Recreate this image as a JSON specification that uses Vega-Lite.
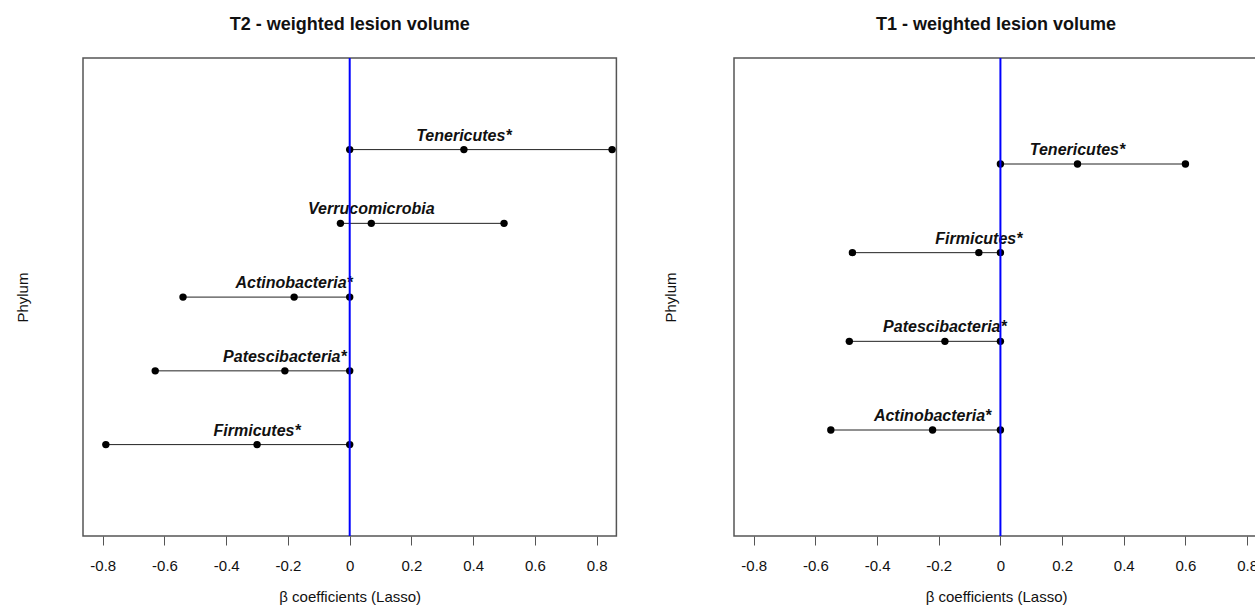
{
  "$schema": "https://vega.github.io/schema/vega-lite/v6.json",
  "background": "white",
  "padding": {"left": 14, "top": 15, "right": 0, "bottom": 0},
  "spacing": 44,
  "config": {
    "font": "Liberation Sans",
    "view": {"stroke": "#555555", "strokeWidth": 1.5},
    "title": {"font": "Liberation Sans", "fontSize": 18, "fontWeight": "bold", "color": "#111111", "offset": 23, "anchor": "middle"},
    "axis": {"grid": false}
  },
  "datasets": {
    "coef": [
      {"panel": "T2", "phylum": "Tenericutes*", "low": 0, "mid": 0.37, "high": 0.85},
      {"panel": "T2", "phylum": "Verrucomicrobia", "low": -0.03, "mid": 0.07, "high": 0.50},
      {"panel": "T2", "phylum": "Actinobacteria*", "low": -0.54, "mid": -0.18, "high": 0},
      {"panel": "T2", "phylum": "Patescibacteria*", "low": -0.63, "mid": -0.21, "high": 0},
      {"panel": "T2", "phylum": "Firmicutes*", "low": -0.79, "mid": -0.30, "high": 0},
      {"panel": "T1", "phylum": "Tenericutes*", "low": 0, "mid": 0.25, "high": 0.60},
      {"panel": "T1", "phylum": "Firmicutes*", "low": -0.48, "mid": -0.07, "high": 0},
      {"panel": "T1", "phylum": "Patescibacteria*", "low": -0.49, "mid": -0.18, "high": 0},
      {"panel": "T1", "phylum": "Actinobacteria*", "low": -0.55, "mid": -0.22, "high": 0}
    ],
    "zero": [{"z": 0}]
  },
  "hconcat": [
    {
      "title": "T2 - weighted lesion volume",
      "width": 533.4,
      "height": 478,
      "layer": [
        {
          "data": {"name": "coef"},
          "transform": [{"filter": "datum.panel == 'T2'"}],
          "mark": {"type": "rule", "color": "#222222", "strokeWidth": 1},
          "encoding": {
            "x": {"field": "low", "type": "quantitative", "scale": {"domain": [-0.864, 0.864], "nice": false, "zero": false},
              "axis": {"title": "β coefficients (Lasso)", "values": [-0.8, -0.6, -0.4, -0.2, 0, 0.2, 0.4, 0.6, 0.8],
                "labelExpr": "datum.value == 0 ? '0' : toString(round(datum.value * 10) / 10)",
                "labelFontSize": 15, "labelColor": "#111111", "labelPadding": 13, "labelFlush": false,
                "tickSize": 9, "tickColor": "#555555", "tickWidth": 1, "domain": false,
                "titleFontSize": 15, "titleFontWeight": "normal", "titleColor": "#111111", "titlePadding": 16}},
            "x2": {"field": "high"},
            "y": {"field": "phylum", "type": "nominal", "sort": ["Tenericutes*", "Verrucomicrobia", "Actinobacteria*", "Patescibacteria*", "Firmicutes*"],
              "scale": {"type": "point", "padding": 0, "range": [91.6, 386.6]},
              "axis": {"title": "Phylum", "labels": false, "ticks": false, "domain": false, "titlePadding": 53, "titleFontSize": 15, "titleFontWeight": "normal", "titleColor": "#111111"}}
          }
        },
        {
          "data": {"name": "coef"},
          "transform": [{"filter": "datum.panel == 'T2'"}, {"fold": ["low", "mid", "high"], "as": ["kind", "value"]}],
          "mark": {"type": "point", "filled": true, "color": "black", "size": 55, "opacity": 1},
          "encoding": {
            "x": {"field": "value", "type": "quantitative"},
            "y": {"field": "phylum", "type": "nominal", "sort": ["Tenericutes*", "Verrucomicrobia", "Actinobacteria*", "Patescibacteria*", "Firmicutes*"]}
          }
        },
        {
          "data": {"name": "coef"},
          "transform": [{"filter": "datum.panel == 'T2'"}],
          "mark": {"type": "text", "font": "Liberation Sans", "fontSize": 16, "fontWeight": "bold", "fontStyle": "italic", "color": "#111111", "align": "center", "baseline": "middle", "dy": -14},
          "encoding": {
            "x": {"field": "mid", "type": "quantitative"},
            "y": {"field": "phylum", "type": "nominal", "sort": ["Tenericutes*", "Verrucomicrobia", "Actinobacteria*", "Patescibacteria*", "Firmicutes*"]},
            "text": {"field": "phylum"}
          }
        },
        {
          "data": {"name": "zero"},
          "mark": {"type": "rule", "color": "#0000ff", "strokeWidth": 2},
          "encoding": {"x": {"field": "z", "type": "quantitative"}}
        }
      ]
    },
    {
      "title": "T1 - weighted lesion volume",
      "width": 524.2,
      "height": 478,
      "layer": [
        {
          "data": {"name": "coef"},
          "transform": [{"filter": "datum.panel == 'T1'"}],
          "mark": {"type": "rule", "color": "#222222", "strokeWidth": 1},
          "encoding": {
            "x": {"field": "low", "type": "quantitative", "scale": {"domain": [-0.864, 0.836], "nice": false, "zero": false},
              "axis": {"title": "β coefficients (Lasso)", "values": [-0.8, -0.6, -0.4, -0.2, 0, 0.2, 0.4, 0.6, 0.8],
                "labelExpr": "datum.value == 0 ? '0' : toString(round(datum.value * 10) / 10)",
                "labelFontSize": 15, "labelColor": "#111111", "labelPadding": 13, "labelFlush": false,
                "tickSize": 9, "tickColor": "#555555", "tickWidth": 1, "domain": false,
                "titleFontSize": 15, "titleFontWeight": "normal", "titleColor": "#111111", "titlePadding": 16}},
            "x2": {"field": "high"},
            "y": {"field": "phylum", "type": "nominal", "sort": ["Tenericutes*", "Firmicutes*", "Patescibacteria*", "Actinobacteria*"],
              "scale": {"type": "point", "padding": 0, "range": [106, 372]},
              "axis": {"title": "Phylum", "labels": false, "ticks": false, "domain": false, "titlePadding": 56, "titleFontSize": 15, "titleFontWeight": "normal", "titleColor": "#111111"}}
          }
        },
        {
          "data": {"name": "coef"},
          "transform": [{"filter": "datum.panel == 'T1'"}, {"fold": ["low", "mid", "high"], "as": ["kind", "value"]}],
          "mark": {"type": "point", "filled": true, "color": "black", "size": 55, "opacity": 1},
          "encoding": {
            "x": {"field": "value", "type": "quantitative"},
            "y": {"field": "phylum", "type": "nominal", "sort": ["Tenericutes*", "Firmicutes*", "Patescibacteria*", "Actinobacteria*"]}
          }
        },
        {
          "data": {"name": "coef"},
          "transform": [{"filter": "datum.panel == 'T1'"}],
          "mark": {"type": "text", "font": "Liberation Sans", "fontSize": 16, "fontWeight": "bold", "fontStyle": "italic", "color": "#111111", "align": "center", "baseline": "middle", "dy": -14},
          "encoding": {
            "x": {"field": "mid", "type": "quantitative"},
            "y": {"field": "phylum", "type": "nominal", "sort": ["Tenericutes*", "Firmicutes*", "Patescibacteria*", "Actinobacteria*"]},
            "text": {"field": "phylum"}
          }
        },
        {
          "data": {"name": "zero"},
          "mark": {"type": "rule", "color": "#0000ff", "strokeWidth": 2},
          "encoding": {"x": {"field": "z", "type": "quantitative"}}
        }
      ]
    }
  ]
}
